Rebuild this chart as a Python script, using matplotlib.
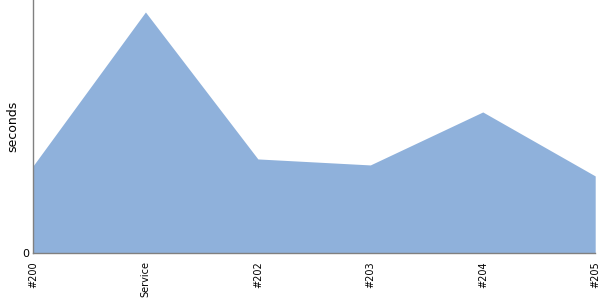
import matplotlib
matplotlib.use("Agg")
import matplotlib.pyplot as plt

categories = ["#200", "Service", "#202", "#203", "#204", "#205"]
seconds = [87, 241, 94, 88, 141, 77]

fig = plt.figure(figsize=(6, 3), dpi=100)
ax = fig.add_axes([0.055, 0.157, 0.937, 0.843])

x = list(range(len(categories)))
ax.fill_between(x, 0, seconds, color="#8fb1db", linewidth=0)

ax.set_xlim(0, len(categories) - 1)
ax.set_ylim(0, 253)
ax.set_xticks(x)
ax.set_xticklabels(categories, rotation=90, fontsize=7)
ax.set_yticks([0])
ax.set_yticklabels(["0"], fontsize=8)
ax.tick_params(axis="x", length=0, pad=6)
ax.tick_params(axis="y", length=0, pad=3)
ax.set_ylabel("seconds", fontsize=9, labelpad=2)

for side in ["top", "right"]:
    ax.spines[side].set_visible(False)
for side in ["left", "bottom"]:
    ax.spines[side].set_color("#808080")
    ax.spines[side].set_linewidth(1)

fig.savefig("out.png", dpi=100)
